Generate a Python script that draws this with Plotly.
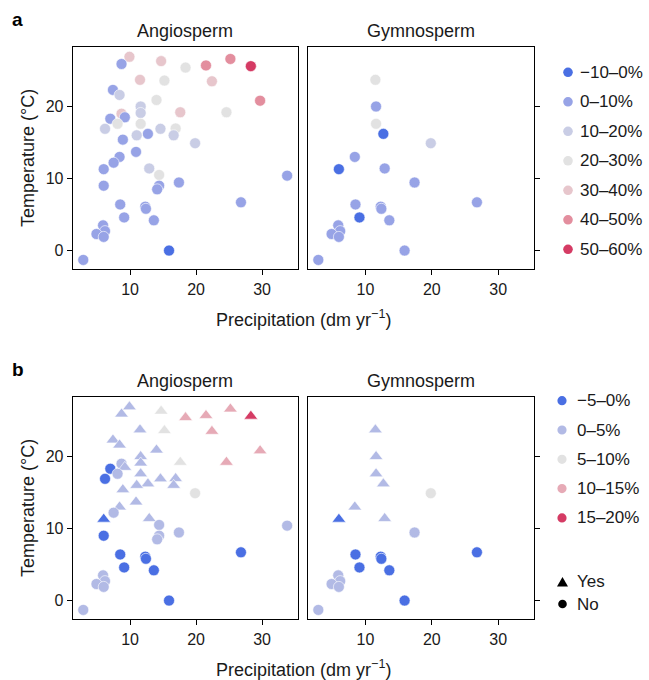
import plotly.graph_objects as go

# ---------------- data ----------------
# Angiosperm sites: precipitation (dm/yr), temperature (°C)
angio_precip = [9.9, 8.7, 14.7, 18.4, 21.5, 25.2, 28.3, 11.5, 15.2, 22.4, 29.7, 7.4, 8.4, 14.0,
                11.6, 11.6, 8.7, 7.0, 9.2, 17.6, 24.6, 8.1, 11.6, 6.2, 14.6, 16.9, 16.6, 12.7,
                11.0, 8.9, 19.85, 10.9, 8.4, 7.5, 6.0, 12.9, 14.4, 14.4, 14.1, 6.0, 17.4, 33.8,
                26.8, 8.5, 12.3, 12.4, 9.1, 13.6, 5.9, 6.2, 4.9, 6.0, 15.9, 2.9]
angio_temp = [26.9, 25.9, 26.3, 25.4, 25.7, 26.6, 25.6, 23.7, 23.6, 23.5, 20.8, 22.3, 21.6, 20.9,
              20.0, 19.1, 19.0, 18.3, 18.5, 19.2, 19.2, 17.6, 17.6, 16.9, 16.9, 16.95, 16.0, 16.2,
              16.0, 15.4, 14.9, 13.7, 13.0, 12.2, 11.3, 11.4, 10.5, 9.0, 8.5, 9.0, 9.45, 10.4,
              6.7, 6.4, 6.1, 5.8, 4.6, 4.2, 3.5, 2.7, 2.3, 1.9, 0.0, -1.3]
# panel a: change class (10% bins)
angio_class_a = ["30–40%", "0–10%", "30–40%", "20–30%", "40–50%", "40–50%", "50–60%", "30–40%",
                 "20–30%", "30–40%", "40–50%", "0–10%", "10–20%", "20–30%", "10–20%", "10–20%",
                 "30–40%", "0–10%", "0–10%", "30–40%", "20–30%", "20–30%", "20–30%", "10–20%",
                 "10–20%", "20–30%", "10–20%", "0–10%", "10–20%", "0–10%", "10–20%", "0–10%",
                 "0–10%", "0–10%", "0–10%", "10–20%", "20–30%", "0–10%", "0–10%", "0–10%",
                 "0–10%", "0–10%", "0–10%", "0–10%", "0–10%", "0–10%", "0–10%", "0–10%",
                 "0–10%", "0–10%", "0–10%", "0–10%", "−10–0%", "0–10%"]
# panel b: change class (5% bins)
angio_class_b = ["0–5%", "0–5%", "5–10%", "10–15%", "10–15%", "10–15%", "15–20%", "0–5%",
                 "5–10%", "10–15%", "10–15%", "0–5%", "0–5%", "0–5%", "0–5%", "0–5%",
                 "0–5%", "−5–0%", "0–5%", "5–10%", "10–15%", "0–5%", "0–5%", "−5–0%",
                 "0–5%", "0–5%", "0–5%", "0–5%", "0–5%", "0–5%", "5–10%", "0–5%",
                 "0–5%", "0–5%", "−5–0%", "0–5%", "0–5%", "0–5%", "0–5%", "−5–0%",
                 "0–5%", "0–5%", "−5–0%", "−5–0%", "−5–0%", "−5–0%", "−5–0%", "−5–0%",
                 "0–5%", "0–5%", "0–5%", "0–5%", "−5–0%", "0–5%"]
angio_sig_b = ["Yes", "Yes", "Yes", "Yes", "Yes", "Yes", "Yes", "Yes", "Yes", "Yes", "Yes", "Yes",
               "Yes", "Yes", "Yes", "Yes", "No", "No", "Yes", "Yes", "Yes", "No", "Yes", "No",
               "Yes", "Yes", "Yes", "Yes", "Yes", "Yes", "No", "Yes", "Yes", "No", "Yes", "Yes",
               "No", "No", "No", "No", "No", "No", "No", "No", "No", "No", "No", "No",
               "No", "No", "No", "No", "No", "No"]

# Gymnosperm sites
gymno_precip = [11.5, 11.6, 11.6, 12.7, 19.85, 8.4, 6.0, 12.9, 17.4, 26.8, 8.5, 12.3, 12.4, 9.1,
                13.6, 5.9, 6.2, 4.9, 6.0, 15.9, 2.9]
gymno_temp = [23.7, 20.0, 17.6, 16.2, 14.9, 13.0, 11.3, 11.4, 9.45, 6.7, 6.4, 6.1, 5.8, 4.6,
              4.2, 3.5, 2.7, 2.3, 1.9, 0.0, -1.3]
gymno_class_a = ["20–30%", "0–10%", "20–30%", "−10–0%", "10–20%", "0–10%", "−10–0%", "0–10%",
                 "0–10%", "0–10%", "0–10%", "0–10%", "0–10%", "−10–0%", "0–10%", "0–10%",
                 "0–10%", "0–10%", "0–10%", "0–10%", "0–10%"]
gymno_class_b = ["0–5%", "0–5%", "0–5%", "0–5%", "5–10%", "0–5%", "−5–0%", "0–5%",
                 "0–5%", "−5–0%", "−5–0%", "−5–0%", "−5–0%", "−5–0%", "−5–0%", "0–5%",
                 "0–5%", "0–5%", "0–5%", "−5–0%", "0–5%"]
gymno_sig_b = ["Yes", "Yes", "Yes", "Yes", "No", "Yes", "Yes", "Yes", "No", "No", "No", "No",
               "No", "No", "No", "No", "No", "No", "No", "No", "No"]

classes_a = ["−10–0%", "0–10%", "10–20%", "20–30%", "30–40%", "40–50%", "50–60%"]
classes_b = ["−5–0%", "0–5%", "5–10%", "10–15%", "15–20%"]
sig_levels = ["Yes", "No"]

x_ticks = [10, 20, 30]
y_ticks = [0, 10, 20]

# ---------------- styles ----------------
colors_a = {"−10–0%": "#4A6FE3", "0–10%": "#97A3E6", "10–20%": "#C9CDE5", "20–30%": "#E2E2E2",
            "30–40%": "#E7C6CC", "40–50%": "#E38E9E", "50–60%": "#D53B64"}
colors_b = {"−5–0%": "#4A6FE3", "0–5%": "#B2BAE5", "5–10%": "#E2E2E2",
            "10–15%": "#E6AAB6", "15–20%": "#D53B64"}
symbols = {"Yes": "triangle-up", "No": "circle"}
sizes = {"Yes": 12, "No": 11}

FONT = "Liberation Sans, Arial, Helvetica, sans-serif"
TXT = "#1a1a1a"
W, H = 649, 680

fig = go.Figure()


def add_points(xs, ys, cls, cmap, sig, xa, ya):
    sym = [symbols[s] for s in sig] if sig else "circle"
    sz = [sizes[s] for s in sig] if sig else 11
    fig.add_trace(go.Scatter(
        x=xs, y=ys, mode="markers", xaxis=xa, yaxis=ya, showlegend=False,
        hoverinfo="x+y",
        marker=dict(color=[cmap[c] for c in cls], symbol=sym, size=sz,
                    line=dict(color="white", width=0.6), opacity=1)))


add_points(angio_precip, angio_temp, angio_class_a, colors_a, None, "x", "y")
add_points(gymno_precip, gymno_temp, gymno_class_a, colors_a, None, "x2", "y2")
add_points(angio_precip, angio_temp, angio_class_b, colors_b, angio_sig_b, "x3", "y3")
add_points(gymno_precip, gymno_temp, gymno_class_b, colors_b, gymno_sig_b, "x4", "y4")

# ---------------- layout ----------------
xl, xr = 72.7 / W, 297.7 / W
gl, gr = 307.7 / W, 534.0 / W
ya_dom = [1 - 269.3 / H, 1 - 46.7 / H]
yb_dom = [1 - 619.3 / H, 1 - 396.7 / H]
x_range = [1.3, 35.4]
y_range = [-2.6, 28.3]

common = dict(showgrid=False, zeroline=False, showline=True, linecolor="black", linewidth=1,
              mirror=True, ticks="outside", ticklen=5, tickwidth=1, tickcolor="black",
              tickfont=dict(family=FONT, size=16, color=TXT), automargin=False)

fig.update_layout(
    width=W, height=H, margin=dict(l=0, r=0, t=0, b=0, autoexpand=False),
    paper_bgcolor="white", plot_bgcolor="white", showlegend=False,
    font=dict(family=FONT, size=16, color=TXT),
    xaxis=dict(domain=[xl, xr], anchor="y", range=x_range, tickvals=x_ticks, **common),
    xaxis2=dict(domain=[gl, gr], anchor="y2", range=x_range, tickvals=x_ticks, **common),
    xaxis3=dict(domain=[xl, xr], anchor="y3", range=x_range, tickvals=x_ticks, **common),
    xaxis4=dict(domain=[gl, gr], anchor="y4", range=x_range, tickvals=x_ticks, **common),
    yaxis=dict(domain=ya_dom, anchor="x", range=y_range, tickvals=y_ticks, **common),
    yaxis2=dict(domain=ya_dom, anchor="x2", range=y_range, tickvals=y_ticks, side="right",
                showticklabels=False, **common),
    yaxis3=dict(domain=yb_dom, anchor="x3", range=y_range, tickvals=y_ticks, **common),
    yaxis4=dict(domain=yb_dom, anchor="x4", range=y_range, tickvals=y_ticks, side="right",
                showticklabels=False, **common),
)

ann = []
shapes = []
tfont = dict(family=FONT, size=18, color=TXT)
afont = dict(family=FONT, size=18, color=TXT)
lfont = dict(family=FONT, size=17, color=TXT)


def px(x):
    return x / W


def py(y):
    return 1 - y / H


for top, lab, ycen in [(0, "a", 158), (350, "b", 508)]:
    ann.append(dict(text="<b>" + lab + "</b>", x=px(10), y=py(19 + top), xref="paper",
                    yref="paper", xanchor="left", yanchor="middle", showarrow=False,
                    font=dict(family=FONT, size=19, color="black")))
    ann.append(dict(text="Angiosperm", x=(xl + xr) / 2, y=py(31 + top), xref="paper",
                    yref="paper", xanchor="center", yanchor="middle", showarrow=False, font=tfont))
    ann.append(dict(text="Gymnosperm", x=(gl + gr) / 2, y=py(31 + top), xref="paper",
                    yref="paper", xanchor="center", yanchor="middle", showarrow=False, font=tfont))
    ann.append(dict(text="Precipitation (dm yr<sup>−1</sup>)", x=(xl + gr) / 2,
                    y=py(318 + top), xref="paper", yref="paper", xanchor="center",
                    yanchor="middle", showarrow=False, font=afont))
    ann.append(dict(text="Temperature (°C)", x=px(28), y=py(ycen), xref="paper",
                    yref="paper", xanchor="center", yanchor="middle", textangle=-90,
                    showarrow=False, font=afont))


def legend_circle(cx, cy, r, color):
    shapes.append(dict(type="circle", xref="paper", yref="paper",
                       x0=px(cx - r), x1=px(cx + r), y0=py(cy + r), y1=py(cy - r),
                       fillcolor=color, line=dict(width=0), layer="above"))


def legend_triangle(cx, cy, w, h, color):
    p = "M {:.5f},{:.5f} L {:.5f},{:.5f} L {:.5f},{:.5f} Z".format(
        px(cx - w / 2), py(cy + h / 2), px(cx + w / 2), py(cy + h / 2), px(cx), py(cy - h / 2))
    shapes.append(dict(type="path", xref="paper", yref="paper", path=p,
                       fillcolor=color, line=dict(width=0), layer="above"))


def legend_text(x, y, t):
    ann.append(dict(text=t, x=px(x), y=py(y), xref="paper", yref="paper", xanchor="left",
                    yanchor="middle", showarrow=False, font=lfont))


# legend a (colour classes)
for i, c in enumerate(classes_a):
    cy = 72.3 + 29.5 * i
    legend_circle(568, cy, 4.8, colors_a[c])
    legend_text(577.5, cy, c)

# legend b (colour classes)
for i, c in enumerate(classes_b):
    cy = 400.7 + 29.3 * i
    legend_circle(562, cy, 4.6, colors_b[c])
    legend_text(575, cy, c)

# legend b (significance shape)
for i, s in enumerate(sig_levels):
    cy = 581.7 + 22.3 * i
    if symbols[s] == "triangle-up":
        legend_triangle(562.5, cy, 11, 9.5, "black")
    else:
        legend_circle(562.5, cy, 4.3, "black")
    legend_text(575, cy, s)

fig.update_layout(annotations=ann, shapes=shapes)

fig.write_html("out.html",
               config={"displayModeBar": False},
               post_script="document.body.style.margin='0px';"
                           "document.body.style.overflow='hidden';")
